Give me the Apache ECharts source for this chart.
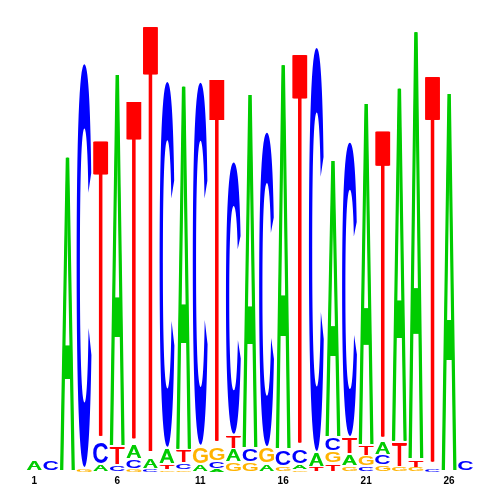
<!DOCTYPE html>
<html>
<head>
<meta charset="utf-8">
<script src="https://cdn.jsdelivr.net/npm/echarts@6/dist/echarts.min.js"></script>
<style>html,body{margin:0;padding:0;background:#fff}#c{width:500px;height:500px}</style>
</head>
<body>
<div id="c"></div>
<script>
// Sequence positions (x categories)
const positions = ['1','2','3','4','5','6','7','8','9','10','11','12','13','14','15','16','17','18','19','20','21','22','23','24','25','26','27'];
const letters = ['A', 'C', 'G', 'T'];
// Letter heights (bits) per position
const A = [0.049,0,1.394,0,0.031,1.650,0.066,0.044,0.071,1.615,0.031,0.013,0.058,1.571,0.035,1.708,0.022,0.066,1.230,0.053,1.518,0.058,1.571,1.898,0,1.677,0];
const C = [0,0.049,0,1.796,0.102,0.027,0.040,0.013,1.628,0.027,1.615,0.031,1.212,0.062,1.398,0.075,0.066,1.796,0.062,1.310,0.022,0.044,0,0,0.013,0,0.044];
const G = [0,0,0,0.013,0,0,0.013,0,0.009,0.009,0.080,0.062,0.040,0.040,0.071,0.022,0.009,0,0.053,0.022,0.044,0.027,0.018,0.018,0,0,0];
const T = [0,0,0,0,1.332,0.084,1.522,1.916,0.022,0.058,0,1.633,0.062,0,0,0,1.752,0.018,0.035,0.075,0.049,1.381,0.111,0.035,1.739,0,0];

const colors = {A: '#00CC00', C: '#0000FF', G: '#FFB300', T: '#FF0000'};
const weights = {A: 'normal', C: 'bold', G: 'bold', T: 'normal'};
const strike = {A: 1.3, C: 0, G: 0, T: 1.3}; // px of horizontal double-strike (thickens vertical strokes only)
const FAMILY = 'Liberation Sans';
const FSIZE = 100;

const heights = {A: A, C: C, G: G, T: T};
const data = [];
positions.forEach(function (p, i) {
  const stack = letters.map(function (l) { return {l: l, h: heights[l][i]}; })
    .filter(function (d) { return d.h > 0; })
    .sort(function (a, b) { return a.h - b.h; });
  let base = 0;
  stack.forEach(function (d) {
    data.push([i, letters.indexOf(d.l), base, base + d.h]);
    base += d.h;
  });
});

// glyph ink metrics relative to a 'middle' baseline (what zrender uses)
const mctx = document.createElement('canvas').getContext('2d');
mctx.textBaseline = 'middle';
mctx.textAlign = 'left';
const metrics = {};
letters.forEach(function (l) {
  mctx.font = weights[l] + ' ' + FSIZE + 'px ' + FAMILY;
  const m = mctx.measureText(l);
  metrics[l] = {L: m.actualBoundingBoxLeft, R: m.actualBoundingBoxRight,
                A: m.actualBoundingBoxAscent, D: m.actualBoundingBoxDescent};
});

function glyph(l, x0, w, top, h, dx) {
  const m = metrics[l];
  const sx = w / (m.L + m.R);
  const sy = h / (m.A + m.D);
  return {
    type: 'text',
    x: x0 + dx + sx * m.L,
    y: top + sy * m.A,
    scaleX: sx,
    scaleY: sy,
    silent: true,
    style: {
      text: l, fontSize: FSIZE, fontWeight: weights[l], fontFamily: FAMILY,
      fill: colors[l], align: 'left', verticalAlign: 'middle'
    }
  };
}

function renderItem(params, api) {
  const i = api.value(0);
  const l = letters[api.value(1)];
  const p0 = api.coord([i, api.value(2)]);
  const p1 = api.coord([i, api.value(3)]);
  const band = api.size([1, 0])[0];
  const w = band * 0.9;
  let h = p0[1] - p1[1];
  if (h <= 0) return null;
  const gap = Math.min(2, h * 0.15);
  h = Math.max(h - gap, 1);
  const x0 = p0[0] - w / 2;
  const off = strike[l];
  const gw = w - off;
  const children = [glyph(l, x0, gw, p1[1], h, 0)];
  if (off > 0) {
    children.push(glyph(l, x0, gw, p1[1], h, off * 0.5));
    children.push(glyph(l, x0, gw, p1[1], h, off));
  }
  return {type: 'group', children: children};
}

const chart = echarts.init(document.getElementById('c'), null, {renderer: 'canvas'});
chart.setOption({
  animation: false,
  backgroundColor: '#fff',
  grid: {left: 26, right: 26, top: 20, bottom: 28},
  xAxis: {
    type: 'category', data: positions, boundaryGap: true,
    axisLine: {show: false}, axisTick: {show: false}, splitLine: {show: false},
    axisLabel: {interval: 4, margin: 4, fontSize: 10, fontWeight: 'bold', color: '#000', fontFamily: FAMILY}
  },
  yAxis: {type: 'value', min: 0, max: 2, show: false},
  series: [{
    type: 'custom',
    renderItem: renderItem,
    data: data,
    encode: {x: 0, y: [2, 3]},
    clip: false
  }]
});
</script>
</body>
</html>
